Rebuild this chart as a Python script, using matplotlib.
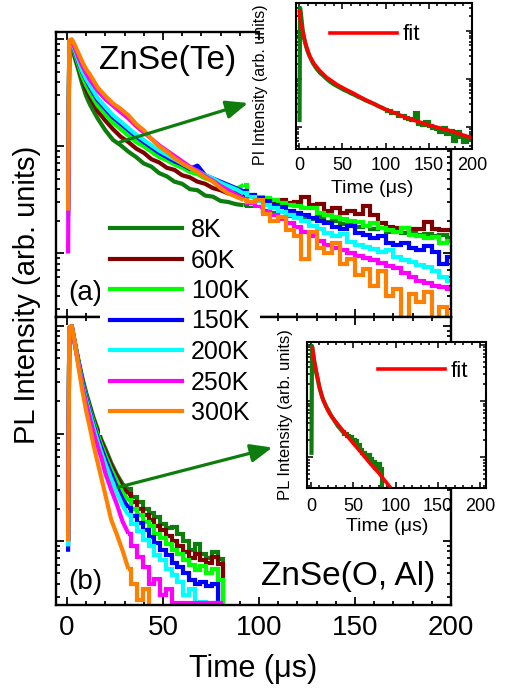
import numpy as np
import matplotlib
matplotlib.use("Agg")
import matplotlib.pyplot as plt
from matplotlib.lines import Line2D
from matplotlib.patches import Rectangle
from matplotlib.ticker import MultipleLocator, LogLocator, NullFormatter

plt.rcParams["font.family"] = ["Liberation Sans", "DejaVu Sans"]

# ---------------------------------------------------------------- data
# all intensities are stored as log10 values
TEMPS  = ["8K", "60K", "100K", "150K", "200K", "250K", "300K"]
COLORS = ["#0d7d0d", "#800000", "#00ff00", "#0000ff", "#00ffff", "#ff00ff", "#ff8000"]
GREEN  = "#0d7d0d"
RED    = "#ff0000"

# (a) ZnSe(Te) time base, us
T_A = [0.6, 1.2, 2.5, 4, 6, 8, 10,
       12, 16, 20, 24, 28, 32, 36, 40,
       44, 48, 52, 56, 60, 64, 68, 72,
       76, 80, 84, 88, 92, 96, 100, 104,
       108, 112, 116, 120, 124, 128, 132, 136,
       140, 144, 148, 152, 156, 160, 164, 168,
       172, 176, 180, 184, 188, 192, 196, 200]

TE_8K = [-1.55, -0.02, -0.05, -0.17, -0.29, -0.42, -0.53,
         -0.61, -0.74, -0.85, -0.94, -0.99, -1.05, -1.10, -1.16,
         -1.19, -1.25, -1.28, -1.33, -1.35, -1.40, -1.41, -1.46,
         -1.47, -1.51, -1.52, -1.54, -1.55, -1.58, -1.57, -1.60,
         -1.62, -1.61, -1.65, -1.63, -1.67, -1.68, -1.66, -1.71,
         -1.70, -1.73, -1.72, -1.75, -1.74, -1.77, -1.76, -1.80,
         -1.78, -1.81, -1.80, -1.83, -1.82, -1.84, -1.83, -1.86]
TE_60K = [-1.60, -0.02, -0.04, -0.15, -0.26, -0.37, -0.47,
          -0.54, -0.67, -0.76, -0.84, -0.91, -0.96, -1.02, -1.06,
          -1.12, -1.15, -1.20, -1.22, -1.27, -1.29, -1.33, -1.35,
          -1.39, -1.41, -1.44, -1.43, -1.47, -1.46, -1.50, -1.49,
          -1.52, -1.50, -1.53, -1.52, -1.47, -1.55, -1.54, -1.60,
          -1.58, -1.62, -1.60, -1.63, -1.56, -1.64, -1.72, -1.75,
          -1.76, -1.76, -1.77, -1.77, -1.71, -1.77, -1.78, -1.78]
TE_100K = [-1.60, -0.02, -0.03, -0.13, -0.24, -0.35, -0.43,
           -0.50, -0.62, -0.70, -0.78, -0.84, -0.90, -0.96, -1.00,
           -1.05, -1.10, -1.13, -1.17, -1.20, -1.24, -1.26, -1.30,
           -1.32, -1.35, -1.38, -1.40, -1.36, -1.45, -1.47, -1.48,
           -1.50, -1.53, -1.55, -1.56, -1.58, -1.58, -1.62, -1.64,
           -1.66, -1.68, -1.70, -1.71, -1.74, -1.72, -1.76, -1.78,
           -1.80, -1.76, -1.83, -1.84, -1.86, -1.85, -1.90, -1.88]
TE_150K = [-1.65, -0.02, -0.02, -0.11, -0.21, -0.31, -0.38,
           -0.45, -0.57, -0.65, -0.73, -0.79, -0.85, -0.91, -0.96,
           -1.01, -1.06, -1.10, -1.14, -1.17, -1.21, -1.18, -1.27,
           -1.30, -1.33, -1.36, -1.39, -1.42, -1.45, -1.48, -1.51,
           -1.55, -1.57, -1.60, -1.62, -1.64, -1.67, -1.70, -1.72,
           -1.75, -1.77, -1.74, -1.81, -1.83, -1.86, -1.84, -1.90,
           -1.92, -1.90, -1.95, -1.97, -1.93, -1.99, -2.10, -2.03]
TE_200K = [-1.70, -0.02, -0.02, -0.10, -0.20, -0.30, -0.37,
           -0.43, -0.55, -0.63, -0.71, -0.77, -0.83, -0.89, -0.94,
           -0.99, -1.04, -1.08, -1.12, -1.16, -1.20, -1.23, -1.27,
           -1.30, -1.34, -1.37, -1.40, -1.44, -1.47, -1.51, -1.55,
           -1.58, -1.61, -1.64, -1.67, -1.70, -1.74, -1.77, -1.81,
           -1.84, -1.82, -1.89, -1.92, -1.94, -1.96, -1.99, -1.97,
           -2.03, -2.06, -2.08, -2.11, -2.13, -2.16, -2.22, -2.26]
TE_250K = [-2.00, -0.02, -0.01, -0.08, -0.17, -0.25, -0.32,
           -0.38, -0.48, -0.56, -0.62, -0.68, -0.74, -0.81, -0.87,
           -0.93, -0.99, -1.04, -1.09, -1.14, -1.19, -1.23, -1.28,
           -1.32, -1.37, -1.41, -1.45, -1.49, -1.53, -1.57, -1.61,
           -1.64, -1.68, -1.72, -1.75, -1.80, -1.84, -1.88, -1.92,
           -1.95, -1.97, -2.00, -2.02, -2.04, -2.06, -2.09, -2.12,
           -2.14, -2.18, -2.22, -2.26, -2.28, -2.30, -2.31, -2.33]
TE_300K = [-1.60, -0.01, 0.00, -0.05, -0.13, -0.21, -0.28,
           -0.33, -0.45, -0.53, -0.60, -0.65, -0.71, -0.79, -0.85,
           -0.93, -1.00, -1.05, -1.11, -1.16, -1.20, -1.24, -1.29,
           -1.33, -1.39, -1.44, -1.47, -1.50, -1.52, -1.50, -1.63,
           -1.70, -1.66, -1.78, -1.84, -2.05, -1.80, -1.95, -2.00,
           -1.90, -2.10, -2.05, -2.20, -2.15, -2.30, -2.16, -2.40,
           -2.33, -2.70, -2.38, -2.45, -2.36, -2.70, -2.50, -2.70]

# (b) ZnSe(O, Al) time base, us
T_B = [0.6, 1.2, 2.5, 4, 6, 8, 10,
       12, 14, 16, 18, 20, 23, 26, 29,
       32, 35, 38, 41, 44, 47, 50, 53,
       56, 59, 62, 65, 68, 71, 74, 77,
       80, 83, 86]
nan = np.nan
OAL_8K = [-2.00, -0.02, 0.00, -0.14, -0.32, -0.48, -0.62,
          -0.74, -0.86, -0.96, -1.06, -1.14, -1.27, -1.38, -1.47,
          -1.52, -1.59, -1.64, -1.70, -1.74, -1.78, -1.84, -1.88,
          -1.87, -1.93, -2.00, -2.08, -2.03, -2.12, -2.16, -2.10,
          -2.17, -2.80, nan]
OAL_60K = [-2.00, -0.02, 0.00, -0.15, -0.33, -0.50, -0.64,
           -0.76, -0.88, -0.98, -1.08, -1.17, -1.29, -1.40, -1.50,
           -1.56, -1.64, -1.70, -1.76, -1.80, -1.86, -1.90, -1.95,
           -2.00, -2.05, -2.10, -2.16, -2.12, -2.18, -2.20, -2.15,
           -2.21, -2.80, nan]
OAL_100K = [-2.02, -0.02, 0.00, -0.15, -0.34, -0.51, -0.65,
            -0.78, -0.90, -1.01, -1.11, -1.20, -1.33, -1.44, -1.55,
            -1.62, -1.70, -1.76, -1.82, -1.86, -1.93, -1.97, -2.03,
            -2.08, -2.12, -2.18, -2.22, -2.27, -2.23, -2.30, -2.26,
            -2.36, -2.80, nan]
OAL_150K = [-2.10, -0.02, 0.00, -0.15, -0.34, -0.52, -0.67,
            -0.80, -0.93, -1.04, -1.14, -1.24, -1.37, -1.50, -1.61,
            -1.69, -1.77, -1.83, -1.90, -1.96, -2.02, -2.08, -2.13,
            -2.20, -2.24, -2.30, -2.36, -2.40, -2.38, -2.42, -2.40,
            -2.80, nan, nan]
OAL_200K = [-2.05, -0.02, 0.00, -0.16, -0.35, -0.54, -0.69,
            -0.82, -0.95, -1.07, -1.18, -1.28, -1.42, -1.55, -1.67,
            -1.76, -1.84, -1.91, -1.99, -2.05, -2.13, -2.18, -2.26,
            -2.32, -2.38, -2.50, -2.45, -2.58, -2.57, -2.58, -2.58,
            -2.58, nan, nan]
OAL_250K = [-2.00, -0.02, 0.00, -0.16, -0.36, -0.56, -0.72,
            -0.86, -1.00, -1.12, -1.23, -1.37, -1.52, -1.66, -1.82,
            -1.93, -2.05, -2.15, -2.24, -2.40, -2.35, -2.50, -2.45,
            -2.58, -2.58, -2.58, -2.58, -2.58, -2.58, -2.58, -2.58,
            -2.58, nan, nan]
OAL_300K = [-2.00, -0.01, 0.00, -0.14, -0.38, -0.60, -0.79,
            -0.95, -1.12, -1.27, -1.42, -1.57, -1.80, -1.94, -2.09,
            -2.26, -2.40, -2.55, -2.45, -2.80, nan, nan, nan,
            nan, nan, nan, nan, nan, nan, nan, nan,
            nan, nan, nan]

# insets: 8K decay with fitted curve
INSET_TE_8K = [-1.90, 0.48, 0.30, 0.05, -0.17, -0.31, -0.43,
               -0.52, -0.67, -0.78, -0.87, -0.93, -1.00, -1.06, -1.11,
               -1.15, -1.19, -1.23, -1.26, -1.30, -1.33, -1.37, -1.40,
               -1.44, -1.47, -1.50, -1.53, -1.57, -1.60, -1.64, -1.66,
               -1.70, -1.72, -1.77, -1.78, -1.82, -1.84, -1.86, -1.72,
               -1.93, -1.96, -1.90, -1.98, -2.02, -2.05, -2.10, -2.02,
               -2.14, -2.08, -2.30, -2.10, -2.20, -2.32, -2.22, -2.28]
FIT_TE_T = [0.3, 2, 4.6, 8, 12.7, 18, 24, 32, 44, 52, 62, 72,
            82, 92, 102, 112, 120, 136, 150, 162, 175, 188, 200]
FIT_TE = [0.40, 0.15, -0.04, -0.30, -0.54, -0.70, -0.83, -0.97, -1.12, -1.20, -1.29, -1.39,
          -1.48, -1.57, -1.65, -1.72, -1.78, -1.88, -1.96, -2.02, -2.08, -2.16, -2.23]

INSET_OAL_8K = [-1.96, -0.02, -0.15, -0.30, -0.48, -0.62, -0.76,
                -0.87, -0.96, -1.03, -1.10, -1.15, -1.24, -1.31, -1.38,
                -1.45, -1.50, -1.56, -1.58, -1.62, -1.64, -1.70, -1.72,
                -1.78, -1.88, -1.92, -1.98, -1.96, -2.04, -2.08, -2.20,
                -2.12, -2.22, -2.80]
FIT_OAL_T = [1.8, 4, 6.7, 10, 14.2, 20, 25, 30.4, 40, 49.7, 60, 69.8, 80, 89.6, 98]
FIT_OAL = [-0.06, -0.30, -0.50, -0.75, -0.98, -1.17, -1.29, -1.39,
           -1.57, -1.75, -1.93, -2.11, -2.28, -2.46, -2.62]

# ---------------------------------------------------------------- layout
W, H = 510, 688
fig = plt.figure(figsize=(W / 100, H / 100), dpi=100)


def px_box(x0, y0, x1, y1):
    """pixel box (top-left origin) -> figure fraction rect"""
    return [x0 / W, 1 - y1 / H, (x1 - x0) / W, (y1 - y0) / H]


def style_axes(ax, lw, major_len, minor_len, labelsize, pad):
    ax.set_yscale("log")
    ax.xaxis.set_major_locator(MultipleLocator(50))
    ax.xaxis.set_minor_locator(MultipleLocator(10))
    ax.yaxis.set_major_locator(LogLocator(base=10, numticks=10))
    ax.yaxis.set_minor_locator(LogLocator(base=10, subs=np.arange(2, 10), numticks=30))
    ax.yaxis.set_major_formatter(NullFormatter())
    ax.yaxis.set_minor_formatter(NullFormatter())
    ax.tick_params(which="both", direction="in", top=True, right=True,
                   width=lw * 0.75, labelsize=labelsize, pad=pad, colors="black")
    ax.tick_params(which="major", length=major_len)
    ax.tick_params(which="minor", length=minor_len)
    for sp in ax.spines.values():
        sp.set_linewidth(lw)


def log_arr(v):
    return 10.0 ** np.asarray(v, dtype=float)


def plot_decay(ax, t, vals, color, t_noisy, lw=3):
    """smooth line for the fast decay, stepped line for the photon-counting tail"""
    t = np.asarray(t, dtype=float)
    y = log_arr(vals)
    k = int(np.searchsorted(t, t_noisy))
    ax.plot(t[:k + 1], y[:k + 1], color=color, lw=lw, solid_joinstyle="round",
            solid_capstyle="butt")
    ax.plot(t[k:], y[k:], color=color, lw=lw, drawstyle="steps-mid",
            solid_joinstyle="miter", solid_capstyle="butt")


ax_a = fig.add_axes(px_box(56, 32, 451, 317))
ax_b = fig.add_axes(px_box(56, 317, 451, 605))

for ax in (ax_a, ax_b):
    style_axes(ax, 1.7, 5.5, 3, 20, 7)
    ax.set_xlim(-5.7, 200)

ax_a.set_ylim(10 ** -2.594, 10 ** 0.068)
ax_b.set_ylim(10 ** -2.595, 10 ** 0.084)
ax_a.tick_params(labelbottom=False)

te_series  = [TE_8K, TE_60K, TE_100K, TE_150K, TE_200K, TE_250K, TE_300K]
oal_series = [OAL_8K, OAL_60K, OAL_100K, OAL_150K, OAL_200K, OAL_250K, OAL_300K]
for vals, c in zip(te_series, COLORS):
    plot_decay(ax_a, T_A, vals, c, 92)
for vals, c in zip(oal_series, COLORS):
    plot_decay(ax_b, T_B, vals, c, 32)

ax_b.set_xticks([0, 50, 100, 150, 200])
ax_b.set_xlabel("Time (μs)", fontsize=22)
ax_b.xaxis.set_label_coords(0.5, -0.17)

fig.text(27 / W, 1 - 295 / H, "PL Intensity (arb. units)", rotation=90,
         ha="center", va="center", fontsize=21)

fig.text(168 / W, 1 - 61 / H, "ZnSe(Te)", ha="center", va="center", fontsize=24)
fig.text(348 / W, 1 - 577 / H, "ZnSe(O, Al)", ha="center", va="center", fontsize=24)
fig.text(85 / W, 1 - 293 / H, "(a)", ha="center", va="center", fontsize=20)
fig.text(85 / W, 1 - 582 / H, "(b)", ha="center", va="center", fontsize=20)

# arrows from the 8K curves towards the insets
arrow_kw = dict(arrowstyle="-|>,head_length=0.6,head_width=0.25", color=GREEN,
                lw=2.3, mutation_scale=22, shrinkA=0, shrinkB=0)
ax_a.annotate("", xy=(94.3, 10 ** -0.595), xytext=(27.6, 10 ** -0.96),
              arrowprops=arrow_kw)
ax_b.annotate("", xy=(107, 10 ** -1.13), xytext=(26.6, 10 ** -1.50),
              arrowprops=arrow_kw)

# temperature legend, spans both panels
handles = [Line2D([], [], color=c, lw=3) for c in COLORS]
leg = fig.legend(handles, TEMPS, loc="upper left",
                 bbox_to_anchor=(100 / W, 1 - 208 / H), fontsize=18,
                 frameon=True, facecolor="white", edgecolor="none",
                 framealpha=1, fancybox=False, borderpad=0.4, borderaxespad=0,
                 handlelength=2.9, handletextpad=0.35, labelspacing=0.26)

# white backing behind the upper inset
fig.add_artist(Rectangle((260 / W, 1 - 150 / H), (480 - 260) / W, 150 / H,
                         transform=fig.transFigure, facecolor="white",
                         edgecolor="none", zorder=1))

# ---------------------------------------------------------------- insets
ax_i1 = fig.add_axes(px_box(296, 3, 472, 149))
ax_i2 = fig.add_axes(px_box(307, 342, 486, 488))
for ax in (ax_i1, ax_i2):
    ax.set_zorder(3)
    style_axes(ax, 1.5, 4, 2, 13, 6)
    ax.set_xticks([0, 50, 100, 150, 200])

ax_i1.set_xlim(-3.5, 200)
ax_i1.set_ylim(10 ** -2.46, 10 ** 0.58)
plot_decay(ax_i1, T_A, INSET_TE_8K, GREEN, 100)
ax_i1.plot(FIT_TE_T, log_arr(FIT_TE), color=RED, lw=2.6, label="fit")
ax_i1.set_xlabel("Time (μs)", fontsize=14)
ax_i1.xaxis.set_label_coords(0.432, -0.212)
ax_i1.set_ylabel("PI Intensity (arb. units)", fontsize=11.5)
ax_i1.yaxis.set_label_coords(-0.159, 0.44)
ax_i1.legend(loc="center left", bbox_to_anchor=(0.193, 0.781), frameon=False,
             fontsize=16, borderpad=0, borderaxespad=0, handlelength=3.0,
             handletextpad=0.25)

ax_i2.set_xlim(-4.7, 207)
ax_i2.set_ylim(10 ** -2.55, 10 ** 0.05)
plot_decay(ax_i2, T_B, INSET_OAL_8K, GREEN, 38)
ax_i2.plot(FIT_OAL_T, log_arr(FIT_OAL), color=RED, lw=2.6, label="fit")
ax_i2.set_xlabel("Time (μs)", fontsize=14)
ax_i2.xaxis.set_label_coords(0.447, -0.205)
ax_i2.set_ylabel("PL Intensity (arb. units)", fontsize=12)
ax_i2.yaxis.set_label_coords(-0.078, 0.5)
ax_i2.tick_params(pad=7)
ax_i2.legend(loc="center left", bbox_to_anchor=(0.397, 0.801), frameon=False,
             fontsize=16, borderpad=0, borderaxespad=0, handlelength=3.0,
             handletextpad=0.25)

fig.savefig("out.png", dpi=100)
